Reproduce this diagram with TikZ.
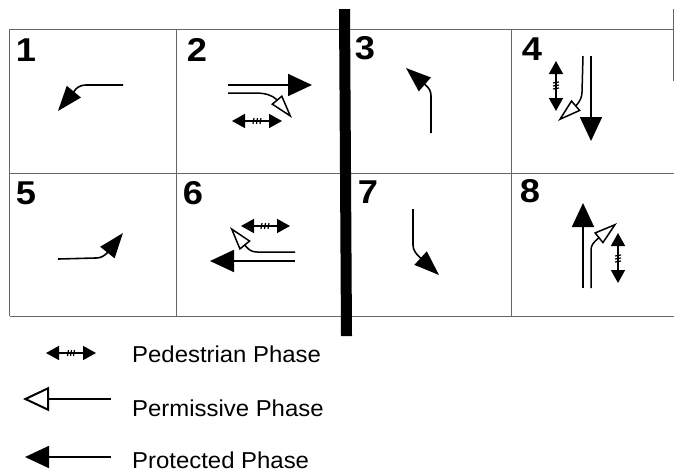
\documentclass[tikz,border=0pt]{standalone}
\usepackage{fontspec}
\setmainfont{Liberation Sans}
\usetikzlibrary{arrows.meta}
\tikzset{
	grid/.style={color=black!60, line width=0.9pt},
	phasenum/.style={anchor=base, font=\fontsize{33}{33}\selectfont\bfseries, inner sep=0pt, xscale=1.1},
	legendtext/.style={anchor=base west, font=\fontsize{23}{23}\selectfont, inner sep=0pt, xscale=1.04},
	protected/.style={line width=1.8pt, -{Triangle[length=24pt,width=22pt]}},
	turning/.style={line width=1.6pt, -{Triangle[length=25pt,width=18pt]}},
	permissive/.style={line width=1.5pt, -{Triangle[open,length=24pt,width=14pt,line width=1.5pt]}},
	pedestrian/.style={line width=1.6pt, {Triangle[length=13pt,width=14pt]}-{Triangle[length=13pt,width=14pt]}},
	pedtick/.style={line width=1.2pt}
}
\begin{document}
\begin{tikzpicture}[x=1pt,y=-1pt]
\useasboundingbox (0,0) rectangle (674,474);

% table
\foreach \y in {29,173,316}
\draw[grid] (9.5,\y) -- (674,\y);
\foreach \x in {9.5,176,511}
\draw[grid] (\x,29) -- (\x,316);
\draw[grid] (673,9) -- (673,81);
\fill (339,9) -- (350,9) -- (352,336) -- (341,336) -- cycle;

% phase numbers
\foreach \n/\x/\y in {1/26/61,2/197/61,3/365/59,4/532/60,5/26/204,6/193/204,7/368/203,8/530/202}
\node[phasenum] (num\n) at (\x,\y) {\n};

% phase 1
\draw[turning] (123,85) -- (86,85) .. controls (80,85) and (76,88) .. (74,91.5) -- (58,111);

% phase 2
\draw[protected] (228,85) -- (312,85);
\draw[permissive] (228,93) -- (255,93) .. controls (265,93) and (272,95) .. (276.5,99.5) -- (292,118);
\draw[pedestrian] (232,121) -- (282,121);
\foreach \x in {254,257.5,261}
\draw[pedtick] (\x,118) -- (\x-1,124);

% phase 3
\draw[turning] (431,133) -- (431,96) .. controls (431,91) and (429,88) .. (425.5,85) -- (406,68);

% phase 4
\draw[protected] (591,56) -- (591,141);
\draw[permissive] (583,56) -- (582,92) .. controls (582,97) and (580,101) .. (577,104.5) -- (558,121);
\draw[pedestrian] (556,61) -- (556,111);
\foreach \y in {83,86,89}
\draw[pedtick] (553,\y) -- (559,\y-1);

% phase 5
\draw[turning] (58,259) -- (96,258) .. controls (101,258) and (104,256) .. (107,253) -- (123,233);

% phase 6
\draw[protected] (295,261) -- (210,261);
\draw[permissive] (295,252) -- (257,252) .. controls (252,252) and (249,250) .. (246,246.5) -- (230,227);
\draw[pedestrian] (241,226) -- (290,226);
\foreach \x in {262,265.5,269}
\draw[pedtick] (\x,223) -- (\x-1,229);

% phase 7
\draw[turning] (413,209) -- (413,245) .. controls (413,250) and (416,254) .. (420.5,258) -- (439,275);

% phase 8
\draw[protected] (583,288) -- (583,203);
\draw[permissive] (591,288) -- (591,250) .. controls (591,245) and (594,242) .. (597.5,239) -- (617,223);
\draw[pedestrian] (618,233) -- (618,283);
\foreach \y in {256,259,262}
\draw[pedtick] (615,\y) -- (621,\y-1);

% legend
\draw[pedestrian] (46,353) -- (96,353);
\foreach \x in {68.5,71.5,74.5}
\draw[pedtick] (\x,350) -- (\x-1,356);
\node[legendtext] (pedlabel) at (132,362) {Pedestrian Phase};

\draw[permissive, -{Triangle[open,length=26pt,width=24pt,line width=2pt]}] (111,399) -- (23,399);
\node[legendtext] (permlabel) at (132,416) {Permissive Phase};

\draw[protected] (111,457) -- (25,457);
\node[legendtext] (protlabel) at (132,468) {Protected Phase};

\end{tikzpicture}
\end{document}
